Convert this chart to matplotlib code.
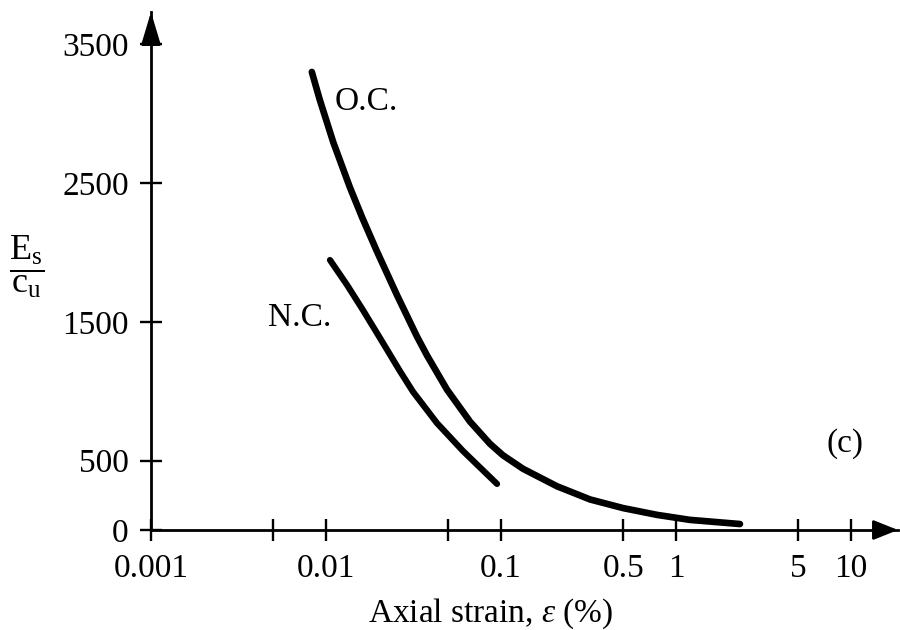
import matplotlib
matplotlib.use("Agg")
import matplotlib.pyplot as plt

plt.rcParams['font.family'] = ['Liberation Serif', 'DejaVu Serif']
plt.rcParams['mathtext.fontset'] = 'custom'
plt.rcParams['mathtext.rm'] = 'Liberation Serif'
plt.rcParams['mathtext.it'] = 'Liberation Serif:italic'

# ---- data (axial strain in %, Es/cu) ----
oc_strain = [0.0083, 0.0092, 0.0110, 0.0137, 0.0161, 0.0196, 0.0255, 0.0331,
             0.0378, 0.0491, 0.0665, 0.0865, 0.1027, 0.1336, 0.209, 0.323,
             0.498, 0.779, 1.20, 2.32]
oc_ratio = [3300, 3102, 2794, 2468, 2251, 2004, 1690, 1394,
            1257, 1012, 781, 621, 538, 441, 315, 220,
            158, 109, 73, 43]

nc_strain = [0.01054, 0.01318, 0.01627, 0.02035, 0.02648, 0.03142, 0.04308,
             0.06066, 0.0949]
nc_ratio = [1945, 1766, 1584, 1383, 1144, 996, 770, 569, 332]

x_ticks = [0.001, 0.005, 0.01, 0.05, 0.1, 0.5, 1, 5, 10]
x_tick_labels = ['0.001', '', '0.01', '', '0.1', '0.5', '1', '5', '10']
y_ticks = [0, 500, 1500, 2500, 3500]
y_tick_labels = ['0', '500', '1500', '2500', '3500']

fig = plt.figure(figsize=(9, 6.3), dpi=100)
ax = fig.add_axes([151 / 900, 100 / 630, (898 - 151) / 900, (530 - 12) / 630])
ax.set_xscale('log')
ax.set_xlim(0.001, 18.56)
ax.set_ylim(0, 3732)

ax.plot(oc_strain, oc_ratio, color='black', lw=4.8, solid_capstyle='round',
        solid_joinstyle='round', clip_on=False)
ax.plot(nc_strain, nc_ratio, color='black', lw=4.5, solid_capstyle='round',
        solid_joinstyle='round', clip_on=False)

for s in ['top', 'right']:
    ax.spines[s].set_visible(False)
for s in ['left', 'bottom']:
    ax.spines[s].set_linewidth(2.0)

ax.set_xticks(x_ticks)
ax.set_xticklabels(x_tick_labels)
ax.minorticks_off()
ax.set_yticks(y_ticks)
ax.set_yticklabels(y_tick_labels)
ax.tick_params(axis='both', direction='inout', length=16, width=1.7,
               labelsize=24, colors='black')
ax.tick_params(axis='y', pad=8)
ax.tick_params(axis='x', pad=9)

# arrow heads on axes
ax.annotate('', xy=(0, 1), xycoords='axes fraction', xytext=(0, -20),
            textcoords='offset points',
            arrowprops=dict(arrowstyle='-|>,head_length=1.0,head_width=0.3',
                            mutation_scale=20, color='black', lw=2,
                            shrinkA=0, shrinkB=0))
ax.annotate('', xy=(1, 0), xycoords='axes fraction', xytext=(-15, 0),
            textcoords='offset points',
            arrowprops=dict(arrowstyle='-|>,head_length=0.75,head_width=0.3',
                            mutation_scale=20, color='black', lw=2,
                            shrinkA=0, shrinkB=0))

ax.set_xlabel(r'Axial strain, $\varepsilon$ (%)', fontsize=24)
ax.xaxis.set_label_coords(0.455, -0.162)
ax.xaxis.label.set_va('center')

ax.set_ylabel(r'$\dfrac{\mathrm{E_s}}{\mathrm{c_u}}$', fontsize=26, rotation=0)
ax.yaxis.set_label_coords(-0.166, 0.508)
ax.yaxis.label.set_va('center')
ax.yaxis.label.set_ha('center')

ax.text(0.01125, 3084, 'O.C.', fontsize=24, ha='left', va='center')
ax.text(0.00466, 1527, 'N.C.', fontsize=24, ha='left', va='center')
ax.text(9.24, 620, '(c)', fontsize=24, ha='center', va='center')

fig.savefig('out.png', dpi=100)
